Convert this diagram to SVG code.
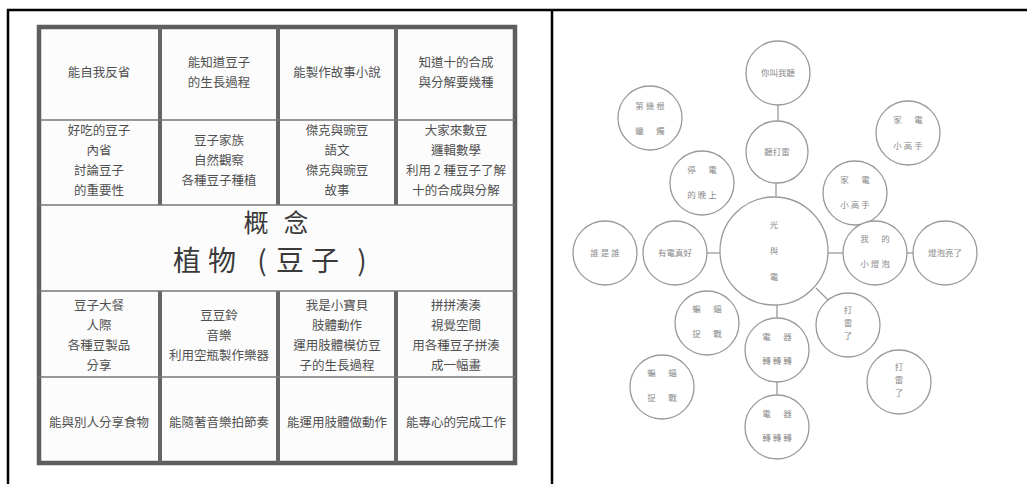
<svg xmlns="http://www.w3.org/2000/svg" width="1027" height="484" viewBox="0 0 1027 484">
<style>
.t{font-family:"Noto Sans CJK TC","Noto Sans CJK SC",sans-serif;font-size:12.5px;fill:#505050;text-anchor:middle}
.big{font-family:"Noto Sans CJK TC","Noto Sans CJK SC",sans-serif;fill:#3a3a3a;text-anchor:middle}
.c circle{fill:#fff;stroke:#9a9a9a;stroke-width:1.3}
.c text{font-family:"Noto Sans CJK TC","Noto Sans CJK SC",sans-serif;font-size:8.5px;fill:#8a8a8a;text-anchor:middle}
.ln{stroke:#9a9a9a;stroke-width:1.3}
.frame{stroke:#000;stroke-width:2.5;fill:none}
.gv{stroke:#666;stroke-width:4}
.gh{stroke:#777;stroke-width:1.6}
</style>
<rect width="1027" height="484" fill="#fff"/>
<g id="page-frame">
<line class="frame" x1="7" y1="10" x2="1027" y2="10"/>
<line class="frame" x1="8" y1="9" x2="8" y2="484"/>
<line class="frame" x1="552" y1="9" x2="552" y2="484"/>
</g>
<g id="grid">
<rect x="39" y="27" width="476" height="436" fill="#fcfcfc" stroke="#5e5e5e" stroke-width="4.5"/>
<line class="gv" x1="160" y1="27" x2="160" y2="205"/>
<line class="gv" x1="278" y1="27" x2="278" y2="205"/>
<line class="gv" x1="396" y1="27" x2="396" y2="205"/>
<line class="gv" x1="160" y1="291" x2="160" y2="463"/>
<line class="gv" x1="278" y1="291" x2="278" y2="463"/>
<line class="gv" x1="396" y1="291" x2="396" y2="463"/>
<line class="gh" x1="39" y1="120" x2="515" y2="120"/>
<line class="gh" x1="39" y1="205" x2="515" y2="205"/>
<line class="gh" x1="39" y1="291" x2="515" y2="291"/>
<line class="gh" x1="39" y1="377" x2="515" y2="377"/>
</g>
<g id="row1">
<text class="t" x="99" y="77">能自我反省</text>
<text class="t" x="219" y="67">能知道豆子</text>
<text class="t" x="219" y="87">的生長過程</text>
<text class="t" x="337" y="77">能製作故事小說</text>
<text class="t" x="456" y="67">知道十的合成</text>
<text class="t" x="456" y="87">與分解要幾種</text>
</g>
<g id="row2">
<text class="t" x="99" y="135">好吃的豆子</text>
<text class="t" x="99" y="155">內省</text>
<text class="t" x="99" y="175">討論豆子</text>
<text class="t" x="99" y="195">的重要性</text>
<text class="t" x="219" y="145">豆子家族</text>
<text class="t" x="219" y="165">自然觀察</text>
<text class="t" x="219" y="185">各種豆子種植</text>
<text class="t" x="337" y="135">傑克與豌豆</text>
<text class="t" x="337" y="155">語文</text>
<text class="t" x="337" y="175">傑克與豌豆</text>
<text class="t" x="337" y="195">故事</text>
<text class="t" x="456" y="135">大家來數豆</text>
<text class="t" x="456" y="155">邏輯數學</text>
<text class="t" x="456" y="175">利用 2 種豆子了解</text>
<text class="t" x="456" y="195">十的合成與分解</text>
</g>
<g id="concept">
<text class="big" y="232" font-size="25"><tspan x="256">概</tspan><tspan x="296">念</tspan></text>
<text class="big" y="271" font-size="28"><tspan x="187">植</tspan><tspan x="222">物</tspan><tspan x="262">(</tspan><tspan x="290">豆</tspan><tspan x="325">子</tspan><tspan x="362">)</tspan></text>
</g>
<g id="row4">
<text class="t" x="99" y="310">豆子大餐</text>
<text class="t" x="99" y="330">人際</text>
<text class="t" x="99" y="350">各種豆製品</text>
<text class="t" x="99" y="370">分享</text>
<text class="t" x="219" y="320">豆豆鈴</text>
<text class="t" x="219" y="340">音樂</text>
<text class="t" x="219" y="360">利用空瓶製作樂器</text>
<text class="t" x="337" y="310">我是小寶貝</text>
<text class="t" x="337" y="330">肢體動作</text>
<text class="t" x="337" y="350">運用肢體模仿豆</text>
<text class="t" x="337" y="370">子的生長過程</text>
<text class="t" x="456" y="310">拼拼湊湊</text>
<text class="t" x="456" y="330">視覺空間</text>
<text class="t" x="456" y="350">用各種豆子拼湊</text>
<text class="t" x="456" y="370">成一幅畫</text>
</g>
<g id="row5">
<text class="t" x="99" y="427">能與別人分享食物</text>
<text class="t" x="219" y="427">能隨著音樂拍節奏</text>
<text class="t" x="337" y="427">能運用肢體做動作</text>
<text class="t" x="456" y="427">能專心的完成工作</text>
</g>
<g id="connectors">
<line class="ln" x1="778" y1="105" x2="778" y2="121"/>
<line class="ln" x1="776" y1="183" x2="776" y2="196"/>
<line class="ln" x1="707" y1="253" x2="720" y2="253"/>
<line class="ln" x1="828" y1="253" x2="843" y2="253"/>
<line class="ln" x1="907" y1="253" x2="913" y2="253"/>
<line class="ln" x1="777" y1="305" x2="777" y2="318"/>
<line class="ln" x1="777" y1="382" x2="777" y2="395"/>
<line class="ln" x1="816" y1="288" x2="828" y2="300"/>
</g>
<g class="c" id="n-listen-me"><circle cx="778" cy="73" r="32"/><text x="778" y="76">你叫我聽</text></g>
<g class="c" id="n-thunder-listen"><circle cx="777" cy="152" r="31"/><text x="777" y="155">聽打雷</text></g>
<g class="c" id="n-center"><circle cx="774" cy="251" r="54"/><text x="774" y="228">光</text><text x="774" y="254">與</text><text x="774" y="280">電</text></g>
<g class="c" id="n-candle"><circle cx="650" cy="118" r="32"/><text x="650" y="109">第 幾 根</text><text x="650" y="134">蠟 　 燭</text></g>
<g class="c" id="n-blackout"><circle cx="702" cy="183" r="32"/><text x="702" y="173">停 　 電</text><text x="702" y="198">的 晚 上</text></g>
<g class="c" id="n-appliance1"><circle cx="908" cy="133" r="32"/><text x="908" y="123">家 　 電</text><text x="908" y="149">小 高 手</text></g>
<g class="c" id="n-appliance2"><circle cx="855" cy="193" r="32"/><text x="855" y="183">家 　 電</text><text x="855" y="208">小 高 手</text></g>
<g class="c" id="n-who"><circle cx="605" cy="253" r="32"/><text x="605" y="256">誰 是 誰</text></g>
<g class="c" id="n-good"><circle cx="675" cy="253" r="32"/><text x="675" y="256">有電真好</text></g>
<g class="c" id="n-bulb"><circle cx="875" cy="253" r="32"/><text x="875" y="242">我 　 的</text><text x="875" y="267">小 燈 泡</text></g>
<g class="c" id="n-bulb-on"><circle cx="945" cy="253" r="32"/><text x="945" y="256">燈泡亮了</text></g>
<g class="c" id="n-bat1"><circle cx="707" cy="323" r="32"/><text x="707" y="312">蝙 　 蝠</text><text x="707" y="337">捉 　 戰</text></g>
<g class="c" id="n-bat2"><circle cx="662" cy="387" r="32"/><text x="662" y="376">蝙 　 蝠</text><text x="662" y="401">捉 　 戰</text></g>
<g class="c" id="n-device1"><circle cx="777" cy="350" r="32"/><text x="777" y="340">電 　 器</text><text x="777" y="364">轉 轉 轉</text></g>
<g class="c" id="n-device2"><circle cx="777" cy="427" r="32"/><text x="777" y="417">電 　 器</text><text x="777" y="441">轉 轉 轉</text></g>
<g class="c" id="n-thunder1"><circle cx="848" cy="325" r="32"/><text x="848" y="313">打</text><text x="848" y="326">雷</text><text x="848" y="339">了</text></g>
<g class="c" id="n-thunder2"><circle cx="899" cy="382" r="32"/><text x="899" y="370">打</text><text x="899" y="383">雷</text><text x="899" y="396">了</text></g>
</svg>
